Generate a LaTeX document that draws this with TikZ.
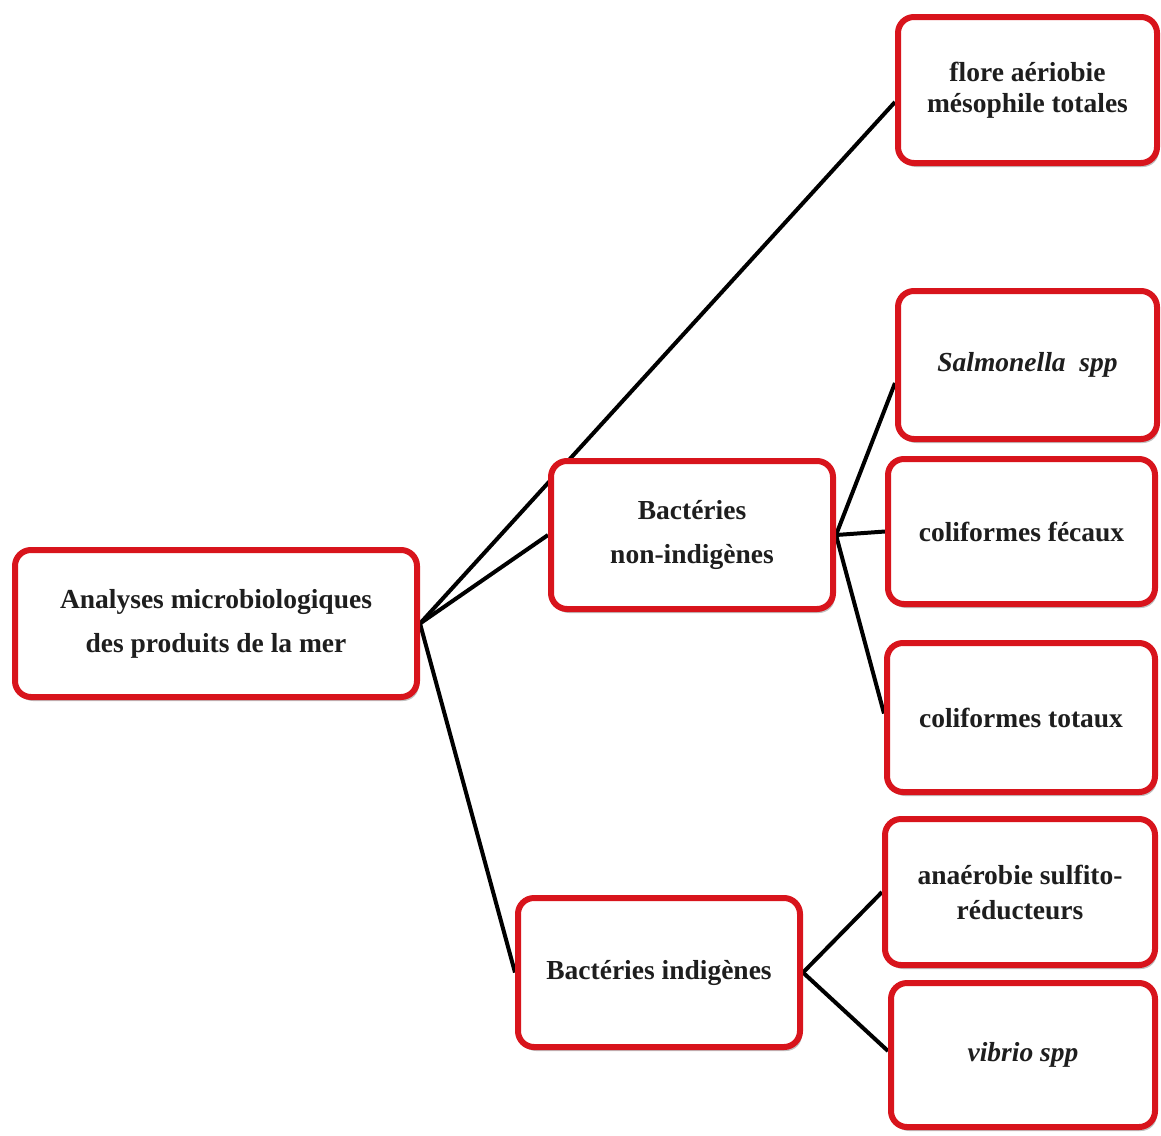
\documentclass[tikz,border=0pt]{standalone}
\usepackage{fontspec}
\setmainfont{Liberation Serif}
\usetikzlibrary{shadows,backgrounds}
\definecolor{boxred}{HTML}{D8141C}
\definecolor{txt}{HTML}{1E1E1E}
\tikzset{
  box/.style={draw=boxred, line width=6pt, rounded corners=16pt, fill=white,
    align=center, font=\fontsize{27.5}{44}\selectfont\bfseries, text=txt,
    inner sep=0pt,
    drop shadow={shadow xshift=2pt, shadow yshift=-4pt, opacity=0.35, fill=black!70}},
  tight/.style={font=\fontsize{27.5}{31}\selectfont\bfseries},
  mid/.style={font=\fontsize{27.5}{35}\selectfont\bfseries},
  link/.style={line width=4pt, black}
}
\begin{document}
\begin{tikzpicture}[x=1pt,y=-1pt]
\useasboundingbox (0,0) rectangle (1161,1135);
% nodes
\node[box, minimum width=402pt, minimum height=147pt] (root) at (216,623.5)
  {Analyses microbiologiques\\des produits de la mer};
\node[box, tight, minimum width=259pt, minimum height=146pt] (flore) at (1027.5,90)
  {flore aériobie\\mésophile totales};
\node[box, minimum width=282pt, minimum height=148pt] (nonind) at (692,535)
  {Bactéries\\non-indigènes};
\node[box, minimum width=259pt, minimum height=148pt] (salm) at (1027.5,365)
  {\itshape Salmonella\ \ spp};
\node[box, minimum width=267pt, minimum height=145pt] (fecaux) at (1021.5,531.5)
  {coliformes fécaux};
\node[box, minimum width=268pt, minimum height=149pt] (totaux) at (1021,717.5)
  {coliformes totaux};
\node[box, minimum width=282pt, minimum height=149pt] (ind) at (659,972.5)
  {Bactéries indigènes};
\node[box, mid, minimum width=270pt, minimum height=146pt] (anaer) at (1020,892)
  {anaérobie sulfito-\\réducteurs};
\node[box, minimum width=264pt, minimum height=144pt] (vibrio) at (1023,1055)
  {\itshape vibrio spp};
% connectors (behind boxes)
\begin{scope}[on background layer]
\draw[link] (root.east) -- ([yshift=-12pt]flore.west);
\draw[link] (root.east) -- (nonind.west);
\draw[link] (root.east) -- (ind.west);
\draw[link] (nonind.east) -- ([yshift=-18pt]salm.west);
\draw[link] (nonind.east) -- (fecaux.west);
\draw[link] (nonind.east) -- ([yshift=4pt]totaux.west);
\draw[link] (ind.east) -- (anaer.west);
\draw[link] (ind.east) -- ([yshift=4pt]vibrio.west);
\end{scope}
\end{tikzpicture}
\end{document}
